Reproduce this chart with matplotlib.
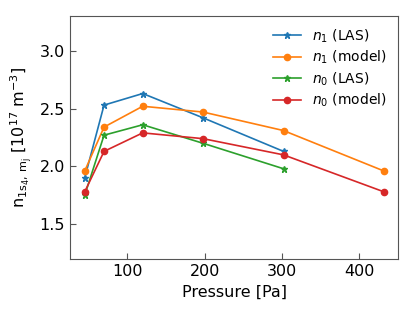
import matplotlib
matplotlib.use("Agg")
import matplotlib.pyplot as plt

pressure_las = [45, 70, 120, 198, 302]
pressure_model = [45, 70, 120, 198, 302, 432]
n1_las = [1.90, 2.53, 2.63, 2.42, 2.13]
n1_model = [1.96, 2.34, 2.52, 2.47, 2.31, 1.96]
n0_las = [1.75, 2.27, 2.36, 2.20, 1.98]
n0_model = [1.78, 2.13, 2.29, 2.24, 2.10, 1.78]

plt.rcParams['font.size'] = 11.5

fig = plt.figure(figsize=(4.15, 3.11), dpi=100)
ax = fig.add_axes([70/415, 1 - 259/311, 328/415, 243/311])

ax.plot(pressure_las, n1_las, marker="*", markersize=4.5, lw=1.2, label=r"$n_1$ (LAS)")
ax.plot(pressure_model, n1_model, marker="o", markersize=4.5, lw=1.2, label=r"$n_1$ (model)")
ax.plot(pressure_las, n0_las, marker="*", markersize=4.5, lw=1.2, label=r"$n_0$ (LAS)")
ax.plot(pressure_model, n0_model, marker="o", markersize=4.5, lw=1.2, label=r"$n_0$ (model)")

ax.set_xlim(26, 450)
ax.set_ylim(1.2, 3.3)
ax.set_xticks([100, 200, 300, 400])
ax.set_yticks([1.5, 2.0, 2.5, 3.0])
ax.tick_params(direction="in", length=4, color="#555555")
for s in ax.spines.values():
    s.set_color("#555555")

ax.set_xlabel("Pressure [Pa]")
ax.set_ylabel(r"$\mathrm{n_{1s_4,\,m_j}}$ [10$^{17}$ m$^{-3}$]")
ax.legend(frameon=False, loc="upper right", fontsize=10, borderaxespad=0.4,
          labelspacing=0.3)

fig.savefig("out.png", dpi=100)
